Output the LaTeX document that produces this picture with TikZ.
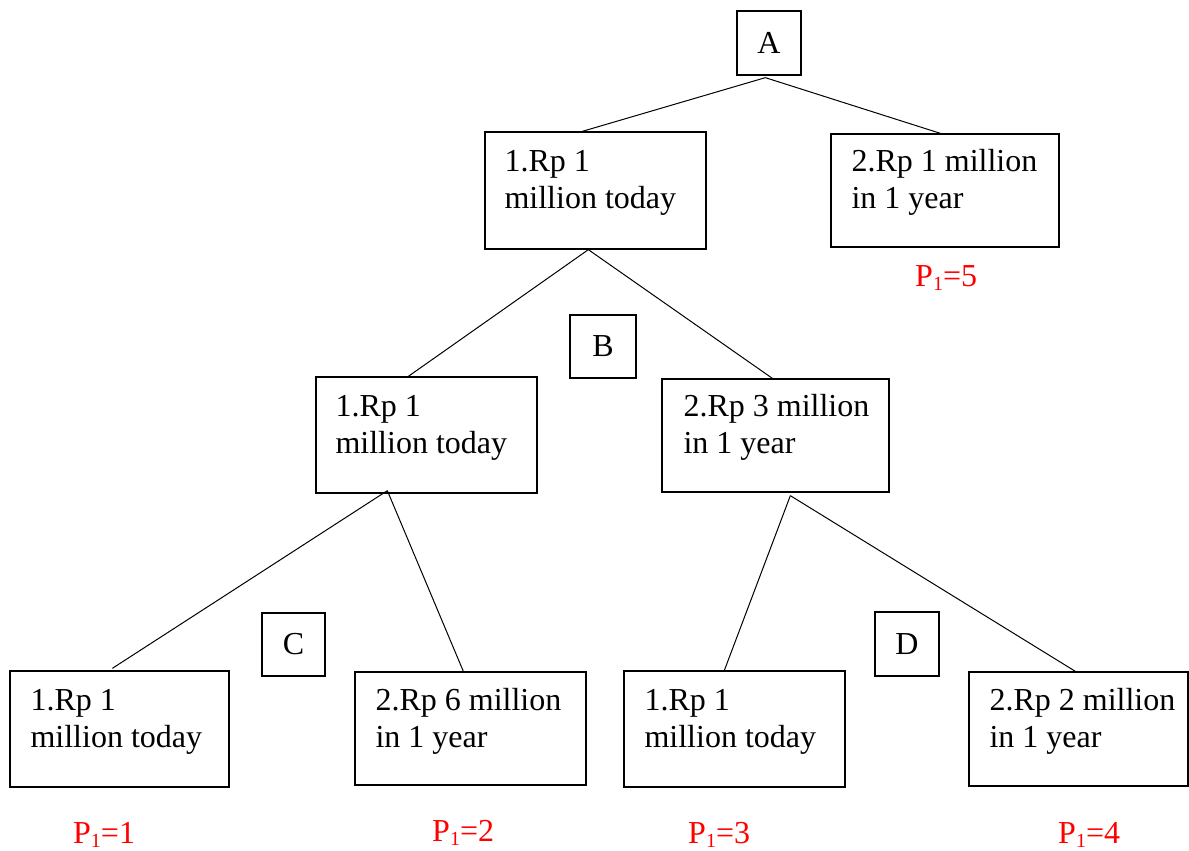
\documentclass[tikz,border=0pt]{standalone}
\usepackage{fontspec}
\setmainfont{Liberation Serif}
\usetikzlibrary{calc}
\newcommand\pone[1]{P\raisebox{-4pt}{\fontsize{20}{20}\selectfont 1}=#1}
\newcommand\twolines[2]{\parbox[t]{240pt}{#1\\#2}}
\begin{document}
\begin{tikzpicture}[x=1pt,y=-1pt,
  box/.style={draw, line width=1.3pt, inner sep=0pt, rectangle, font=\fontsize{32}{37}\selectfont},
  txt/.style={anchor=base west, inner sep=0pt, font=\fontsize{32}{37}\selectfont},
  conn/.style={line width=1pt},
  plab/.style={anchor=base west, inner sep=0pt, text=red, font=\fontsize{32}{37}\selectfont}]
\useasboundingbox[fill=white] (0,0) rectangle (1189,851);

% letter boxes
\node[box, minimum width=64pt, minimum height=64pt] (A) at (769,43) {A};
\node[box, minimum width=66pt, minimum height=63pt] (B) at (603,346.5) {B};
\node[box, minimum width=63pt, minimum height=63pt] (C) at (293.5,644.5) {C};
\node[box, minimum width=64pt, minimum height=64pt] (D) at (907,644) {D};

% option boxes
\node[box, minimum width=221pt, minimum height=117pt] (b1) at (595.5,190.5) {};
\node[box, minimum width=228pt, minimum height=113pt] (b2) at (945,190.5) {};
\node[box, minimum width=221pt, minimum height=116pt] (m1) at (426.5,435) {};
\node[box, minimum width=227pt, minimum height=113pt] (m2) at (775.5,435.5) {};
\node[box, minimum width=219pt, minimum height=116pt] (l1) at (119.5,729) {};
\node[box, minimum width=231pt, minimum height=113pt] (l2) at (470.5,728.5) {};
\node[box, minimum width=221pt, minimum height=116pt] (l3) at (734.5,729) {};
\node[box, minimum width=219pt, minimum height=114pt] (l4) at (1078.5,729) {};

% texts
\node[txt] (t1) at ($(b1.north west)+(20,40)$) {\twolines{1.Rp 1}{million today}};
\node[txt] (t2) at ($(b2.north west)+(21,38)$) {\twolines{2.Rp 1 million}{in 1 year}};
\node[txt] (t3) at ($(m1.north west)+(20,40)$) {\twolines{1.Rp 1}{million today}};
\node[txt] (t4) at ($(m2.north west)+(22,38)$) {\twolines{2.Rp 3 million}{in 1 year}};
\node[txt] (t5) at ($(l1.north west)+(21,40)$) {\twolines{1.Rp 1}{million today}};
\node[txt] (t6) at ($(l2.north west)+(21,39)$) {\twolines{2.Rp 6 million}{in 1 year}};
\node[txt] (t7) at ($(l3.north west)+(21,40)$) {\twolines{1.Rp 1}{million today}};
\node[txt] (t8) at ($(l4.north west)+(21,39)$) {\twolines{2.Rp 2 million}{in 1 year}};

% priority labels
\node[plab] (p5) at (915,286) {\pone{5}};
\node[plab] (p1) at (73,843) {\pone{1}};
\node[plab] (p2) at (432,841) {\pone{2}};
\node[plab] (p3) at (688,843) {\pone{3}};
\node[plab] (p4) at (1058,843) {\pone{4}};

% connectors
\draw[conn] ($(A.south west)+(29,2)$) -- ($(b1.north west)+(98,0)$);
\draw[conn] ($(A.south west)+(29,2)$) -- ($(b2.north west)+(110,0)$);
\draw[conn] ($(b1.south west)+(104,0)$) -- ($(m1.north west)+(93,0)$);
\draw[conn] ($(b1.south west)+(104,0)$) -- ($(m2.north west)+(111,0)$);
\draw[conn] ($(m1.south west)+(72,-3)$) -- ($(l1.north west)+(103,-2)$);
\draw[conn] ($(m1.south west)+(72,-3)$) -- ($(l2.north west)+(109,0)$);
\draw[conn] ($(m2.south west)+(129,3)$) -- ($(l3.north west)+(101,0)$);
\draw[conn] ($(m2.south west)+(129,3)$) -- ($(l4.north west)+(107,0)$);
\end{tikzpicture}
\end{document}
